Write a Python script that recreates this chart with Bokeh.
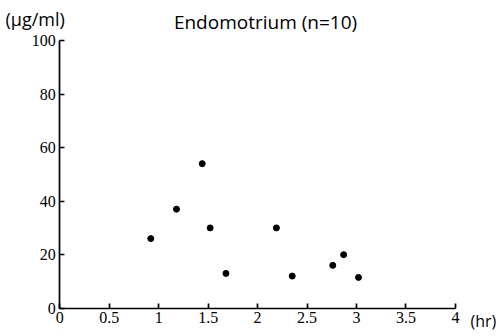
from bokeh.plotting import figure
from bokeh.models import Range1d, FixedTicker, Label, LinearAxis
from bokeh.embed import file_html
from bokeh.resources import INLINE

# data
hours = [0.92, 1.18, 1.44, 1.52, 1.68, 2.19, 2.35, 2.76, 2.87, 3.02]
conc = [26, 37, 54, 30, 13, 30, 12, 16, 20, 11.5]
x_ticks = [0, 0.5, 1, 1.5, 2, 2.5, 3, 3.5, 4]
y_ticks = [0, 20, 40, 60, 80, 100]
title_text = "Endomotrium (n=10)"
y_unit = "(\u03bcg/ml)"
x_unit = "(hr)"

p = figure(width=501, height=336, min_border=0,
           x_range=Range1d(-0.5996, 4.466), y_range=Range1d(-10.57, 114.94),
           x_axis_location=None, y_axis_location=None,
           output_backend="svg", toolbar_location=None)
p.outline_line_color = None
p.background_fill_color = "white"
p.border_fill_color = "white"
p.grid.visible = False

p.scatter(hours, conc, size=6, color="black")

xaxis = LinearAxis(fixed_location=0, bounds=(0, 4), ticker=FixedTicker(ticks=x_ticks))
yaxis = LinearAxis(fixed_location=0, bounds=(0, 100), ticker=FixedTicker(ticks=y_ticks))
for ax in (xaxis, yaxis):
    ax.axis_line_width = 1.7
    ax.axis_line_color = "black"
    ax.major_tick_line_color = "black"
    ax.major_tick_line_width = 1.7
    ax.major_tick_out = 0
    ax.major_tick_in = 5
    ax.minor_tick_line_color = None
    ax.major_label_text_font = "Liberation Serif"
    ax.major_label_text_color = "black"
    ax.major_label_text_font_size = "16px"
    ax.major_label_standoff = 4
p.add_layout(xaxis, "below")
p.add_layout(yaxis, "left")

p.add_layout(Label(x=2.08, y=106.9, text=title_text, text_align="center",
                   text_baseline="middle", text_font="Open Sans",
                   text_font_size="19px", text_color="black"))
p.add_layout(Label(x=-0.549, y=108.2, text=y_unit, text_align="left",
                   text_baseline="middle", text_font="Open Sans",
                   text_font_size="18px", text_color="black"))
p.add_layout(Label(x=4.153, y=-4.8, text=x_unit, text_align="left",
                   text_baseline="middle", text_font="Open Sans",
                   text_font_size="16px", text_color="black"))

open("out.html", "w").write(file_html(p, INLINE))
